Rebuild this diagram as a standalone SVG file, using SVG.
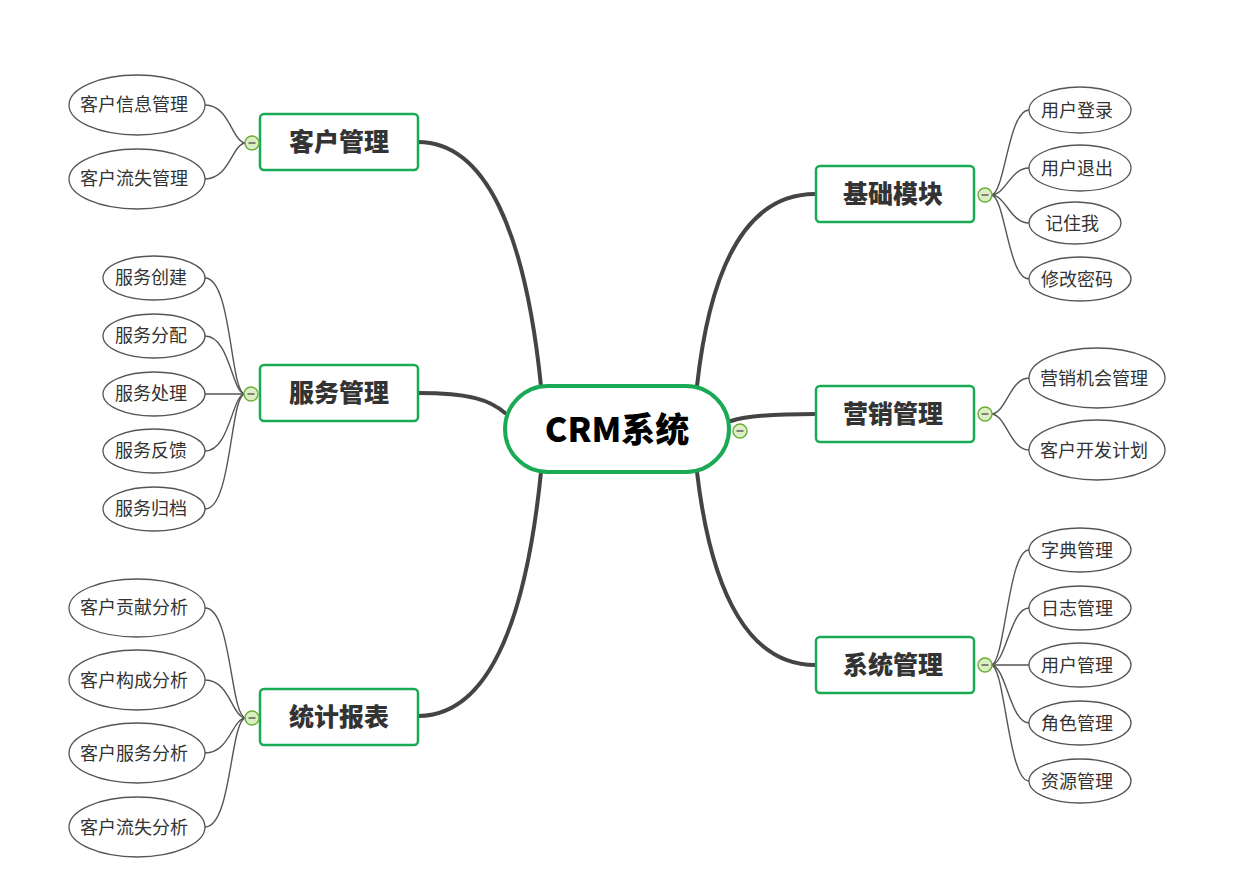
<svg xmlns="http://www.w3.org/2000/svg" width="1257" height="880" viewBox="0 0 1257 880">
<style>
.main{fill:none;stroke:#444;stroke-width:4;stroke-linecap:round}
.sub{fill:none;stroke:#555;stroke-width:1.4}
.box{fill:#fff;stroke:#1aaa55;stroke-width:2.5}
.root{fill:#fff;stroke:#1aaa55;stroke-width:4}
.leaf{fill:#fff;stroke:#555;stroke-width:1.3}
.bt{font-family:"Noto Sans CJK SC","Noto Sans",sans-serif;font-weight:900;font-size:25px;fill:#333;text-anchor:middle}
.rt{font-family:"Noto Sans CJK SC","Noto Sans",sans-serif;font-weight:900;font-size:34px;fill:#000;text-anchor:middle}
.lt{font-family:"Noto Sans CJK SC","Noto Sans",sans-serif;font-size:18px;fill:#333;text-anchor:middle}
.btn circle{fill:#dcefc4;stroke:#6aae3a;stroke-width:1.4}
.btn line{stroke:#555;stroke-width:1.4}
</style>
<defs>
<g id="minus" class="btn"><circle cx="0" cy="0" r="7"/><line x1="-3.5" y1="0" x2="3.5" y2="0"/></g>
</defs>
<g id="connectors">
<path class="main" d="M418,142 C485,142 525,230 541,386"/>
<path class="main" d="M418,393 C470,393 490,400 505,413"/>
<path class="main" d="M418,716 C485,716 525,630 541,472"/>
<path class="main" d="M815,194 C755,194 712,250 697,386"/>
<path class="main" d="M815,414 C770,414 745,416 731,421"/>
<path class="main" d="M815,665 C752,665 712,600 697,472"/>
<path class="sub" d="M205,105 C230,105 232,143 246,143"/>
<path class="sub" d="M205,179 C230,179 232,143 246,143"/>
<path class="sub" d="M205,278 C232,278 230,394 245,394"/>
<path class="sub" d="M205,336 C230,336 232,394 245,394"/>
<path class="sub" d="M205,394 L245,394"/>
<path class="sub" d="M205,451 C230,451 232,394 245,394"/>
<path class="sub" d="M205,509 C232,509 230,394 245,394"/>
<path class="sub" d="M205,608 C232,608 230,718 246,718"/>
<path class="sub" d="M205,680 C230,680 232,718 246,718"/>
<path class="sub" d="M205,753 C230,753 232,718 246,718"/>
<path class="sub" d="M205,827 C232,827 230,718 246,718"/>
<path class="sub" d="M991,195 C1005,195 1008,110 1029,110"/>
<path class="sub" d="M991,195 C1006,195 1010,168 1029,168"/>
<path class="sub" d="M991,195 C1006,195 1010,223 1029,223"/>
<path class="sub" d="M991,195 C1005,195 1008,279 1029,279"/>
<path class="sub" d="M991,414 C1006,414 1010,378 1029,378"/>
<path class="sub" d="M991,414 C1006,414 1010,450 1029,450"/>
<path class="sub" d="M991,665 C1005,665 1008,550 1029,550"/>
<path class="sub" d="M991,665 C1006,665 1010,608 1029,608"/>
<path class="sub" d="M991,665 L1029,665"/>
<path class="sub" d="M991,665 C1006,665 1010,723 1029,723"/>
<path class="sub" d="M991,665 C1005,665 1008,781 1029,781"/>
</g>
<g id="root">
<rect class="root" x="505" y="386" width="224" height="86" rx="43"/>
<text class="rt" x="617" y="442">CRM系统</text>
<use href="#minus" x="740" y="431"/>
</g>
<g id="n-kehu">
<rect class="box" x="260" y="114" width="158" height="56" rx="4"/>
<text class="bt" x="339" y="151">客户管理</text>
<use href="#minus" x="252" y="143"/>
</g>
<g id="n-fuwu">
<rect class="box" x="260" y="365" width="158" height="56" rx="4"/>
<text class="bt" x="339" y="402">服务管理</text>
<use href="#minus" x="251" y="394"/>
</g>
<g id="n-tongji">
<rect class="box" x="260" y="689" width="158" height="56" rx="4"/>
<text class="bt" x="339" y="726">统计报表</text>
<use href="#minus" x="252" y="718"/>
</g>
<g id="n-jichu">
<rect class="box" x="816" y="166" width="158" height="56" rx="4"/>
<text class="bt" x="893" y="203">基础模块</text>
<use href="#minus" x="985" y="195"/>
</g>
<g id="n-yingxiao">
<rect class="box" x="816" y="386" width="158" height="56" rx="4"/>
<text class="bt" x="893" y="423">营销管理</text>
<use href="#minus" x="985" y="414"/>
</g>
<g id="n-xitong">
<rect class="box" x="816" y="637" width="158" height="56" rx="4"/>
<text class="bt" x="893" y="674">系统管理</text>
<use href="#minus" x="985" y="665"/>
</g>
<g id="l-kehuxinxi"><ellipse class="leaf" cx="137" cy="105" rx="68" ry="30"/><text class="lt" x="134" y="111">客户信息管理</text></g>
<g id="l-kehuliushi"><ellipse class="leaf" cx="137" cy="179" rx="68" ry="30"/><text class="lt" x="134" y="185">客户流失管理</text></g>
<g id="l-fwcj"><ellipse class="leaf" cx="154" cy="278" rx="51" ry="22"/><text class="lt" x="151" y="284">服务创建</text></g>
<g id="l-fwfp"><ellipse class="leaf" cx="154" cy="336" rx="51" ry="22"/><text class="lt" x="151" y="342">服务分配</text></g>
<g id="l-fwcl"><ellipse class="leaf" cx="154" cy="394" rx="51" ry="22"/><text class="lt" x="151" y="400">服务处理</text></g>
<g id="l-fwfk"><ellipse class="leaf" cx="154" cy="451" rx="51" ry="22"/><text class="lt" x="151" y="457">服务反馈</text></g>
<g id="l-fwgd"><ellipse class="leaf" cx="154" cy="509" rx="51" ry="22"/><text class="lt" x="151" y="515">服务归档</text></g>
<g id="l-gx"><ellipse class="leaf" cx="137" cy="608" rx="68" ry="29"/><text class="lt" x="134" y="614">客户贡献分析</text></g>
<g id="l-gc"><ellipse class="leaf" cx="137" cy="680" rx="68" ry="30"/><text class="lt" x="134" y="687">客户构成分析</text></g>
<g id="l-fw"><ellipse class="leaf" cx="137" cy="753" rx="68" ry="30"/><text class="lt" x="134" y="760">客户服务分析</text></g>
<g id="l-ls"><ellipse class="leaf" cx="137" cy="827" rx="68" ry="30"/><text class="lt" x="134" y="834">客户流失分析</text></g>
<g id="l-dl"><ellipse class="leaf" cx="1080" cy="110" rx="51" ry="23"/><text class="lt" x="1077" y="117">用户登录</text></g>
<g id="l-tc"><ellipse class="leaf" cx="1080" cy="168" rx="51" ry="23"/><text class="lt" x="1077" y="175">用户退出</text></g>
<g id="l-jzw"><ellipse class="leaf" cx="1075" cy="223" rx="46" ry="21"/><text class="lt" x="1072" y="230">记住我</text></g>
<g id="l-xgmm"><ellipse class="leaf" cx="1080" cy="279" rx="51" ry="22"/><text class="lt" x="1077" y="286">修改密码</text></g>
<g id="l-yxjh"><ellipse class="leaf" cx="1097" cy="378" rx="68" ry="30"/><text class="lt" x="1094" y="385">营销机会管理</text></g>
<g id="l-khkf"><ellipse class="leaf" cx="1097" cy="450" rx="68" ry="30"/><text class="lt" x="1094" y="457">客户开发计划</text></g>
<g id="l-zd"><ellipse class="leaf" cx="1080" cy="550" rx="51" ry="22"/><text class="lt" x="1077" y="557">字典管理</text></g>
<g id="l-rz"><ellipse class="leaf" cx="1080" cy="608" rx="51" ry="22"/><text class="lt" x="1077" y="615">日志管理</text></g>
<g id="l-yh"><ellipse class="leaf" cx="1080" cy="665" rx="51" ry="22"/><text class="lt" x="1077" y="672">用户管理</text></g>
<g id="l-js"><ellipse class="leaf" cx="1080" cy="723" rx="51" ry="22"/><text class="lt" x="1077" y="730">角色管理</text></g>
<g id="l-zy"><ellipse class="leaf" cx="1080" cy="781" rx="51" ry="22"/><text class="lt" x="1077" y="788">资源管理</text></g>
</svg>
